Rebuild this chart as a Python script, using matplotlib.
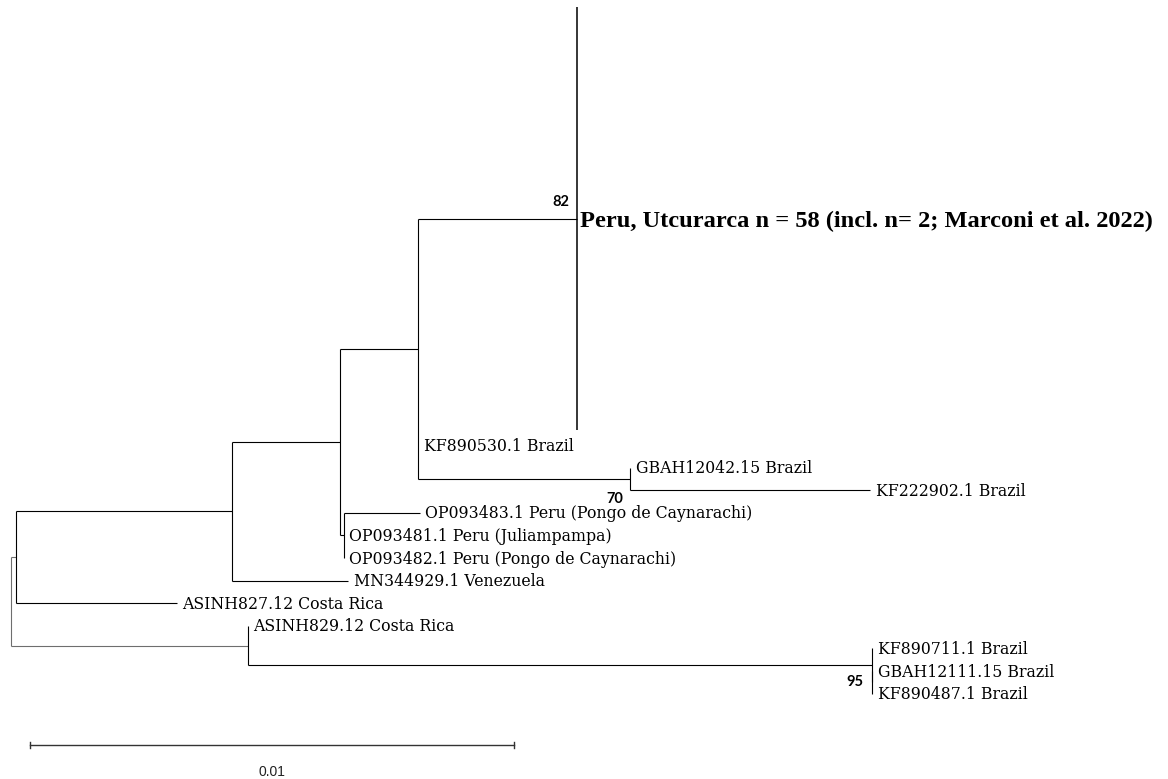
import matplotlib
matplotlib.use("Agg")
import matplotlib.pyplot as plt

# ---------------- data ----------------
node_names = ["root", "A", "B", "C", "D", "Peru", "KF890530", "E", "GBAH12042", "KF222902",
              "F", "OP093483", "OP093481", "OP093482", "MN344929", "ASINH827",
              "G", "ASINH829", "H", "KF890711", "I", "GBAH12111", "KF890487"]
parents = [None, "root", "A", "B", "C", "D", "D", "D", "E", "E",
           "C", "F", "F", "F", "B", "A",
           "root", "G", "G", "H", "H", "I", "I"]
branch_lengths = [0.0, 0.000103, 0.004463, 0.002231, 0.001612, 0.003285, 0.0, 0.004380, 0.0, 0.004959,
                  0.00008, 0.001570, 0.0, 0.0, 0.002397, 0.003326,
                  0.004897, 0.0, 0.012893, 0.0, 0.0, 0.0, 0.0]
tip_labels = {
    "Peru": "Peru, Utcurarca n = 58 (incl. n= 2; Marconi et al. 2022)",
    "KF890530": "KF890530.1 Brazil",
    "GBAH12042": "GBAH12042.15 Brazil",
    "KF222902": "KF222902.1 Brazil",
    "OP093483": "OP093483.1 Peru (Pongo de Caynarachi)",
    "OP093481": "OP093481.1 Peru (Juliampampa)",
    "OP093482": "OP093482.1 Peru (Pongo de Caynarachi)",
    "MN344929": "MN344929.1 Venezuela",
    "ASINH827": "ASINH827.12 Costa Rica",
    "ASINH829": "ASINH829.12 Costa Rica",
    "KF890711": "KF890711.1 Brazil",
    "GBAH12111": "GBAH12111.15 Brazil",
    "KF890487": "KF890487.1 Brazil",
}
collapsed_clade = "Peru"
collapsed_n = 58
bootstrap_nodes = ["Peru", "E", "I"]
bootstrap_values = ["82", "70", "95"]
scale_bar_length = 0.01
scale_bar_label = "0.01"

# ---------------- layout ----------------
children = {n: [] for n in node_names}
for n, p in zip(node_names, parents):
    if p is not None:
        children[p].append(n)
bl = dict(zip(node_names, branch_lengths))

X = {}
def set_x(n, x0):
    X[n] = x0
    for c in children[n]:
        set_x(c, x0 + bl[c])
set_x("root", 0.0)

Y = {}
clade_span = {}
cursor = [-19.38]
COLL_STEP = 0.3284
AFTER_COLL = 0.66
def set_y(n):
    if n == collapsed_clade:
        top = cursor[0]
        bottom = top + (collapsed_n - 1) * COLL_STEP
        clade_span[n] = (top, bottom)
        Y[n] = (top + bottom) / 2
        cursor[0] = bottom + AFTER_COLL
        return
    if not children[n]:
        Y[n] = cursor[0]
        cursor[0] += 1.0
        return
    for c in children[n]:
        set_y(c)
    Y[n] = (Y[children[n][0]] + Y[children[n][-1]]) / 2
set_y("root")

PX_PER_UNIT = 48400.0
ROOT_PX = 11
fig = plt.figure(figsize=(11.68, 7.79), dpi=100)
ax = fig.add_axes([0, 0, 1, 1])
ax.set_xlim(-ROOT_PX / PX_PER_UNIT, (1168 - ROOT_PX) / PX_PER_UNIT)
ax.set_ylim(14.78, -19.69)
ax.axis("off")

LW = 0.8
for n in node_names:
    p = parents[node_names.index(n)]
    col = "#6e6e6e" if p == "root" else "black"
    if p is not None and bl[n] > 0:
        ax.plot([X[p], X[n]], [Y[n], Y[n]], color=col, lw=LW, solid_capstyle="butt")
    if children[n]:
        ys = [Y[c] for c in children[n]]
        vcol = "#6e6e6e" if n == "root" else "black"
        ax.plot([X[n], X[n]], [min(ys), max(ys)], color=vcol, lw=LW, solid_capstyle="butt")
# collapsed clade vertical
top, bottom = clade_span[collapsed_clade]
ax.plot([X[collapsed_clade]] * 2, [top, bottom], color="black", lw=1.1, solid_capstyle="butt")

for n, lab in tip_labels.items():
    if n == collapsed_clade:
        ax.annotate(lab, (X[n], Y[n]), xytext=(2.5, -5.8), textcoords="offset points",
                    ha="left", va="baseline", fontsize=17.6, fontweight="bold",
                    family="Liberation Serif", color="black")
    else:
        ax.annotate(lab, (X[n], Y[n]), xytext=(4.0, -4.1), textcoords="offset points",
                    ha="left", va="baseline", fontsize=11.3, family="DejaVu Serif", color="black")

bs_offsets = {"Peru": ((-5.3, 7.2), "bottom"), "E": ((-5.0, -9.2), "top"), "I": ((-6.5, 0), "center")}
for n, v in zip(bootstrap_nodes, bootstrap_values):
    off, va = bs_offsets[n]
    ax.annotate(v, (X[n], Y[n]), xytext=off, textcoords="offset points",
                ha="right", va=va, fontsize=10.5, fontweight="bold", family="Lato", color="black")

# scale bar
sb_x0 = (30 - ROOT_PX) / PX_PER_UNIT
sb_y = (745 - 445) / 22.6
sb_tick = 0.15
ax.plot([sb_x0, sb_x0 + scale_bar_length], [sb_y, sb_y], color="#333333", lw=1.0)
for xx in (sb_x0, sb_x0 + scale_bar_length):
    ax.plot([xx, xx], [sb_y - sb_tick, sb_y + sb_tick], color="#333333", lw=1.0)
ax.text(sb_x0 + scale_bar_length / 2, (772.5 - 445) / 22.6, scale_bar_label,
        ha="center", va="center", fontsize=10, family="Liberation Sans", color="#222222")

fig.savefig("out.png", dpi=100)
